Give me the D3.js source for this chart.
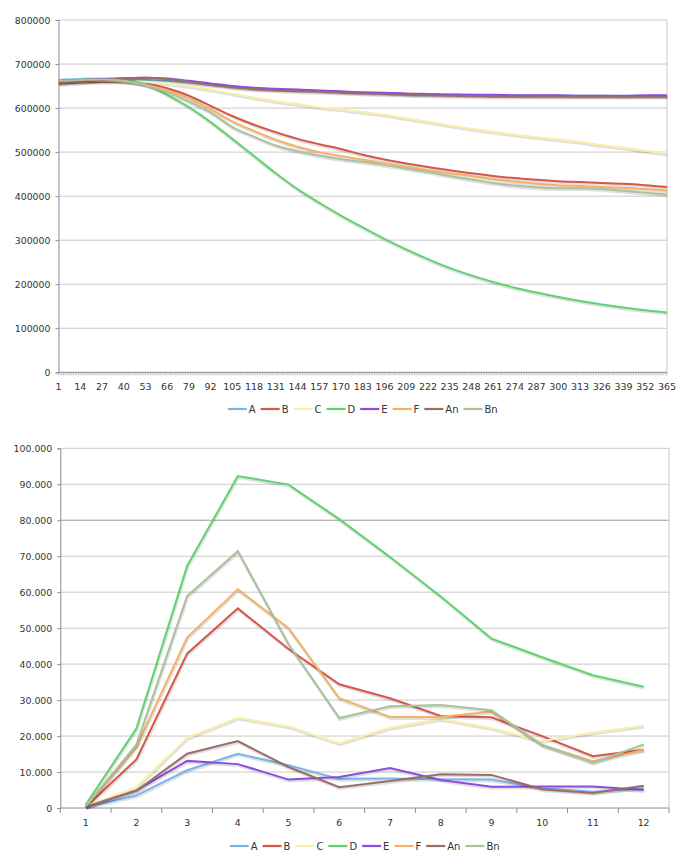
<!DOCTYPE html>
<html><head><meta charset="utf-8">
<script src="https://cdn.jsdelivr.net/npm/d3@7"></script>
<style>
html,body{margin:0;padding:0;background:#fff;}
svg text{font-family:"DejaVu Sans",Verdana,sans-serif;fill:#333;}
</style></head>
<body><svg id="c" width="678" height="860"></svg>
<script>
// ---------- DATA ----------
const seriesNames = ["A","B","C","D","E","F","An","Bn"];
const seriesColors = ["#78b6ea","#d6564c","#f9efa6","#5fd36f","#8a4de0","#f4b265","#9d6c69","#aac29d"];

// Top chart: days sampled every 13 days
const days = [1,14,27,40,53,66,79,92,105,118,131,144,157,170,183,196,209,222,235,248,261,274,287,300,313,326,339,352,365];
const dayTickLabels = [1,14,27,40,53,66,79,92,105,118,131,144,157,170,183,196,209,222,235,248,261,274,287,300,313,326,339,352,365];
const topYTicks = [0,100000,200000,300000,400000,500000,600000,700000,800000];

const topA  = [664000,666000,667000,666000,664000,662000,658000,654000,649000,645000,643000,641000,639000,637000,635000,634000,632000,631000,630000,630000,629000,629000,628000,628000,628000,628000,627000,627000,627000];
const topB  = [655000,658000,660000,660000,655000,645000,628000,605000,582000,562000,545000,530000,518000,507000,494000,483000,474000,466000,459000,452000,446000,441000,437000,434000,432000,430000,428000,425000,421000];
const topC  = [660000,662000,663000,662000,660000,656000,650000,642000,633000,624000,616000,609000,602000,597000,591000,585000,577000,569000,561000,553000,546000,540000,534000,529000,523000,516000,510000,503000,497000];
const topD  = [662000,665000,666000,664000,654000,630000,602000,568000,530000,491000,452000,416000,385000,356000,329000,303000,279000,257000,237000,220000,205000,192000,181000,171000,162000,154000,147000,141000,136000];
const topE  = [662000,664000,666000,668000,669000,667000,662000,656000,650000,646000,644000,642000,640000,638000,636000,635000,633000,632000,631000,630000,630000,629000,629000,629000,628000,628000,628000,629000,629000];
const topF  = [658000,660000,662000,660000,653000,640000,622000,597000,570000,548000,528000,512000,500000,491000,483000,475000,467000,459000,452000,446000,439000,433000,428000,425000,423000,421000,419000,416000,413000];
const topAn = [657000,660000,664000,668000,669000,666000,660000,653000,647000,643000,640000,638000,637000,635000,633000,632000,630000,629000,628000,627000,626000,626000,626000,626000,626000,626000,626000,626000,626000];
const topBn = [662000,664000,665000,662000,652000,636000,615000,590000,557000,535000,515000,502000,492000,484000,478000,471000,463000,455000,446000,438000,430000,424000,420000,418000,418000,416000,412000,408000,404000];

// Bottom chart: 12 periods
const periods = [1,2,3,4,5,6,7,8,9,10,11,12];
const botYTicks = [0,10000,20000,30000,40000,50000,60000,70000,80000,90000,100000];
const botA  = [300,3500,10500,15100,11900,8100,8200,8000,7900,5500,4500,5500];
const botB  = [300,13500,42900,55500,44200,34400,30500,25600,25200,20000,14400,16200];
const botC  = [500,5800,19500,25100,22700,18000,22300,24800,22200,18600,21000,22900];
const botD  = [900,22100,67300,92300,89900,80300,69800,58800,47100,41900,36900,33700];
const botE  = [300,4900,13100,12200,7900,8600,11100,7800,5900,6000,6000,5000];
const botF  = [300,17000,47400,60800,50000,30500,25300,25300,26800,17500,13000,16100];
const botAn = [300,4800,15100,18600,11400,5800,7500,9400,9200,5200,4200,6200];
const botBn = [500,17600,58900,71400,45500,25000,28300,28600,27200,17500,12600,17700];

const topSeries = [topA,topB,topC,topD,topE,topF,topAn,topBn];
const botSeries = [botA,botB,botC,botD,botE,botF,botAn,botBn];

// ---------- DRAW ----------
const svg = d3.select("#c");
const gridCol = "#c9c9c9", axisCol = "#8c8c8c";

function legend(cx, y) {
  const g = svg.append("g");
  let x = 0;
  seriesNames.forEach((n,i) => {
    g.append("line").attr("x1",x).attr("x2",x+19).attr("y1",y).attr("y2",y)
      .attr("stroke",seriesColors[i]).attr("stroke-width",2.2);
    const t = g.append("text").attr("x",x+21).attr("y",y+3.6).attr("font-size",10).text(n);
    x += 21 + t.node().getComputedTextLength() + 5;
  });
  const w = x - 5;
  g.attr("transform",`translate(${cx - w/2},0)`);
}

function drawLines(g, data, xf, yScale, curve) {
  data.forEach((vals,i) => {
    const line = d3.line().x((d,j)=>xf(j)).y(d=>yScale(d)).curve(curve);
    g.append("path").attr("d",line(vals)).attr("fill","none")
      .attr("stroke","#000").attr("stroke-opacity",0.12).attr("stroke-width",3)
      .attr("transform","translate(0.6,1.4)");
    g.append("path").attr("d",line(vals)).attr("fill","none")
      .attr("stroke",seriesColors[i]).attr("stroke-width",2);
  });
}

// ---- Top chart ----
{
  const L=58.5, R=667, T=20, B=372.3;
  const x = d3.scaleLinear().domain([1,365]).range([L,R]);
  const y = d3.scaleLinear().domain([0,800000]).range([B,T]);
  const g = svg.append("g");
  g.selectAll("line.grid").data(topYTicks.filter(v=>v>0)).join("line")
    .attr("x1",L).attr("x2",R).attr("y1",d=>y(d)).attr("y2",d=>y(d))
    .attr("stroke",gridCol).attr("stroke-width",1);
  g.append("line").attr("x1",R).attr("x2",R).attr("y1",T).attr("y2",B).attr("stroke",gridCol);
  const ya = d3.axisLeft(y).tickValues(topYTicks).tickSize(3).tickFormat(d3.format("d"));
  const yg = g.append("g").attr("transform",`translate(${L},0)`).call(ya);
  yg.select(".domain").attr("stroke",axisCol);
  yg.selectAll(".tick line").attr("stroke",axisCol);
  yg.selectAll("text").attr("font-size",9.4).attr("fill","#333").attr("x",-8);
  const allDays = d3.range(1,366);
  g.selectAll("line.dt").data(allDays).join("line")
    .attr("x1",d=>x(d)).attr("x2",d=>x(d)).attr("y1",B).attr("y2",B+3)
    .attr("stroke","#b5b5b5").attr("stroke-width",0.8);
  g.append("line").attr("x1",L).attr("x2",R).attr("y1",B).attr("y2",B).attr("stroke",axisCol);
  g.selectAll("text.xl").data(dayTickLabels).join("text")
    .attr("x",d=>x(d)).attr("y",B+18).attr("text-anchor","middle").attr("font-size",9.5).text(d=>d);
  drawLines(g, topSeries, j=>x(days[j]), y, d3.curveMonotoneX);
  legend((L+R)/2, 409);
}

// ---- Bottom chart ----
{
  const L=60.3, R=669, T=448.3, B=808;
  const x = d3.scaleBand().domain(periods).range([L,R]);
  const y = d3.scaleLinear().domain([0,100000]).range([B,T]);
  const loc = d3.formatLocale({decimal:",",thousands:".",grouping:[3],currency:["",""]});
  const fmt = loc.format(",");
  const g = svg.append("g");
  g.selectAll("line.grid").data(botYTicks.filter(v=>v>0)).join("line")
    .attr("x1",L).attr("x2",R).attr("y1",d=>y(d)).attr("y2",d=>y(d))
    .attr("stroke",d=>d===80000?"#9a9a9a":gridCol).attr("stroke-width",1);
  g.append("line").attr("x1",R).attr("x2",R).attr("y1",T).attr("y2",B).attr("stroke",gridCol);
  const ya = d3.axisLeft(y).tickValues(botYTicks).tickSize(3).tickFormat(fmt);
  const yg = g.append("g").attr("transform",`translate(${L},0)`).call(ya);
  yg.select(".domain").attr("stroke",axisCol);
  yg.selectAll(".tick line").attr("stroke",axisCol);
  yg.selectAll("text").attr("font-size",9.4).attr("fill","#333").attr("x",-8);
  const bounds = periods.map(p=>x(p)).concat([R]);
  g.selectAll("line.bt").data(bounds).join("line")
    .attr("x1",d=>d).attr("x2",d=>d).attr("y1",B).attr("y2",B+5).attr("stroke",axisCol);
  g.append("line").attr("x1",L).attr("x2",R).attr("y1",B).attr("y2",B).attr("stroke",axisCol);
  g.selectAll("text.xl").data(periods).join("text")
    .attr("x",d=>x(d)+x.bandwidth()/2).attr("y",B+18).attr("text-anchor","middle").attr("font-size",9.4).text(d=>d);
  drawLines(g, botSeries, j=>x(periods[j])+x.bandwidth()/2, y, d3.curveLinear);
  legend((L+R)/2, 846);
}
</script></body></html>
